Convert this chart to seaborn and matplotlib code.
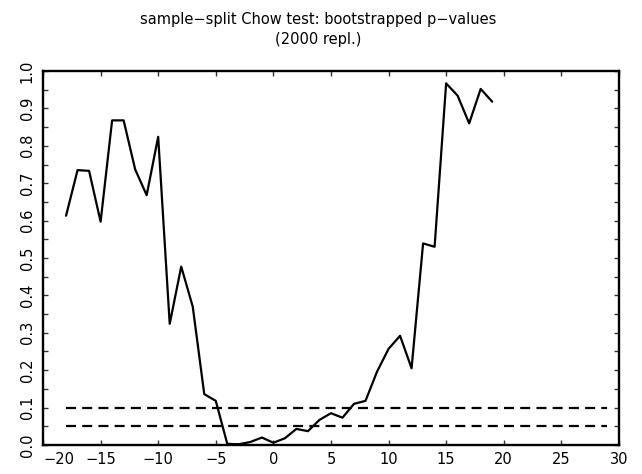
import numpy as np
import pandas as pd
import seaborn as sns
import matplotlib
matplotlib.use("Agg")
import matplotlib.pyplot as plt

# split points and bootstrapped p-values
split = list(range(-18, 20))
pvals = [0.613, 0.735, 0.733, 0.597, 0.868, 0.868, 0.737, 0.668, 0.824,
         0.324, 0.477, 0.370, 0.136, 0.118, 0.003, 0.002, 0.008, 0.020,
         0.006, 0.018, 0.043, 0.037, 0.067, 0.085, 0.073, 0.110, 0.118,
         0.196, 0.257, 0.292, 0.205, 0.539, 0.530, 0.967, 0.934, 0.860,
         0.952, 0.918]

# significance levels drawn as dashed reference lines
levels = [0.10, 0.05]
level_span = [-18, 29]

title = "sample\u2212split Chow test: bootstrapped p\u2212values\n(2000 repl.)"

sns.set_style("ticks")
plt.rcParams['font.family'] = ['DejaVu Sans']

df = pd.DataFrame({'split': split, 'p': pvals})

fig = plt.figure(figsize=(6.42, 4.74), dpi=100)
ax = fig.add_axes([0.067, 0.0612, 0.897, 0.789])

sns.lineplot(data=df, x='split', y='p', color='black', linewidth=1.6, ax=ax)
for lv in levels:
    ax.hlines(lv, level_span[0], level_span[1], colors='black',
              linestyles=(0, (4.5, 2.8)), linewidth=1.6)

ax.set_xlim(-20, 30)
ax.set_ylim(0, 1.0)
ax.set_xticks(np.arange(-20, 31, 5))
ax.set_xticklabels([str(v).replace('-', '\u2212') for v in range(-20, 31, 5)])
ax.set_yticks(np.arange(0, 1.01, 0.1))
ax.set_yticklabels(['%.1f' % v for v in np.arange(0, 1.01, 0.1)],
                   rotation=90, va='center')
ax.set_yticks(np.arange(0.05, 1.0, 0.1), minor=True)
ax.xaxis.get_majorticklabels()[0].set_horizontalalignment('left')
ax.set_xlabel('')
ax.set_ylabel('')

ax.tick_params(which='both', direction='in', top=True, right=True,
               length=3.5, width=1.0, labelsize=10.5, color='#333333',
               labelcolor='black')
ax.tick_params(axis='x', pad=5)
ax.tick_params(axis='y', pad=6)
for s in ax.spines.values():
    s.set_linewidth(1.7)
    s.set_color('black')

fig.suptitle(title, x=0.495, y=0.975, fontsize=10.5, linespacing=1.45,
             color='black')

fig.savefig("out.png", dpi=100)
